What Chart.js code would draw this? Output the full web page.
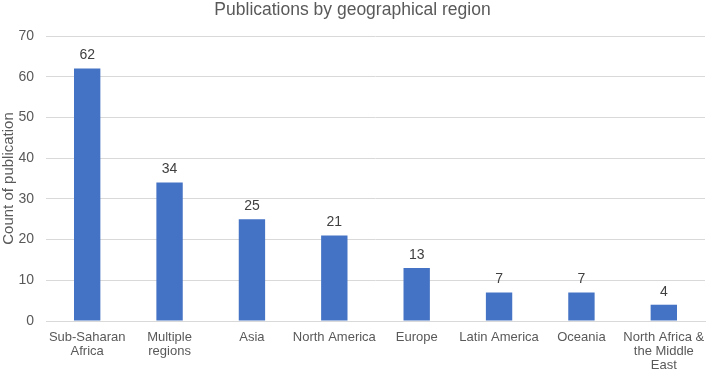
<!DOCTYPE html>
<html>
<head>
<meta charset="utf-8">
<script src="https://cdn.jsdelivr.net/npm/chart.js@4"></script>
<style>
  html, body { margin: 0; padding: 0; background: #fff; }
  #wrap { width: 712px; height: 370px; }
</style>
</head>
<body>
<div id="wrap"><canvas id="regionChart" width="712" height="370"></canvas></div>
<script>
const regions = [
    ['Sub-Saharan', 'Africa'],
    ['Multiple', 'regions'],
    'Asia',
    'North America',
    'Europe',
    'Latin America',
    'Oceania',
    ['North Africa &', 'the Middle', 'East']
];
const publicationCounts = [62, 34, 25, 21, 13, 7, 7, 4];

// draws the count above each bar
const valueLabels = {
    id: 'valueLabels',
    afterDatasetsDraw(chart) {
        const ctx = chart.ctx;
        const meta = chart.getDatasetMeta(0);
        ctx.save();
        ctx.font = '14px "Liberation Sans", Arial, sans-serif';
        ctx.fillStyle = '#404040';
        ctx.textAlign = 'center';
        ctx.textBaseline = 'bottom';
        meta.data.forEach((bar, i) => {
            ctx.fillText(publicationCounts[i], bar.x, bar.y - 6);
        });
        ctx.restore();
    }
};

Chart.defaults.font.family = '"Liberation Sans", Arial, sans-serif';
Chart.defaults.color = '#595959';

const ctx = document.getElementById('regionChart').getContext('2d');
new Chart(ctx, {
    type: 'bar',
    data: {
        labels: regions,
        datasets: [{
            label: 'Count of publication',
            data: publicationCounts,
            backgroundColor: '#4472c4',
            barPercentage: 0.32,
            categoryPercentage: 1.0
        }]
    },
    options: {
        responsive: false,
        animation: false,
        layout: { padding: { left: 0, right: 7, top: 0, bottom: 0 } },
        plugins: {
            legend: { display: false },
            tooltip: { enabled: false },
            title: {
                display: true,
                text: 'Publications by geographical region',
                color: '#595959',
                font: { size: 17.5, weight: 'normal' },
                padding: { top: 0, bottom: 15 }
            }
        },
        scales: {
            x: {
                afterFit(scale) { scale.height = 49; },
                grid: { display: false },
                border: { color: '#d9d9d9' },
                ticks: {
                    color: '#595959',
                    font: { size: 13, lineHeight: 1.08 },
                    maxRotation: 0,
                    autoSkip: false,
                    padding: 1
                }
            },
            y: {
                min: 0,
                max: 70,
                afterFit(scale) { scale.width = 46; },
                ticks: {
                    stepSize: 10,
                    color: '#595959',
                    font: { size: 14 },
                    padding: 12
                },
                grid: { color: '#d9d9d9', drawTicks: false },
                border: { display: false },
                title: {
                    display: true,
                    text: 'Count of publication',
                    color: '#595959',
                    font: { size: 15 },
                    padding: 0
                }
            }
        }
    },
    plugins: [valueLabels]
});
</script>
</body>
</html>
